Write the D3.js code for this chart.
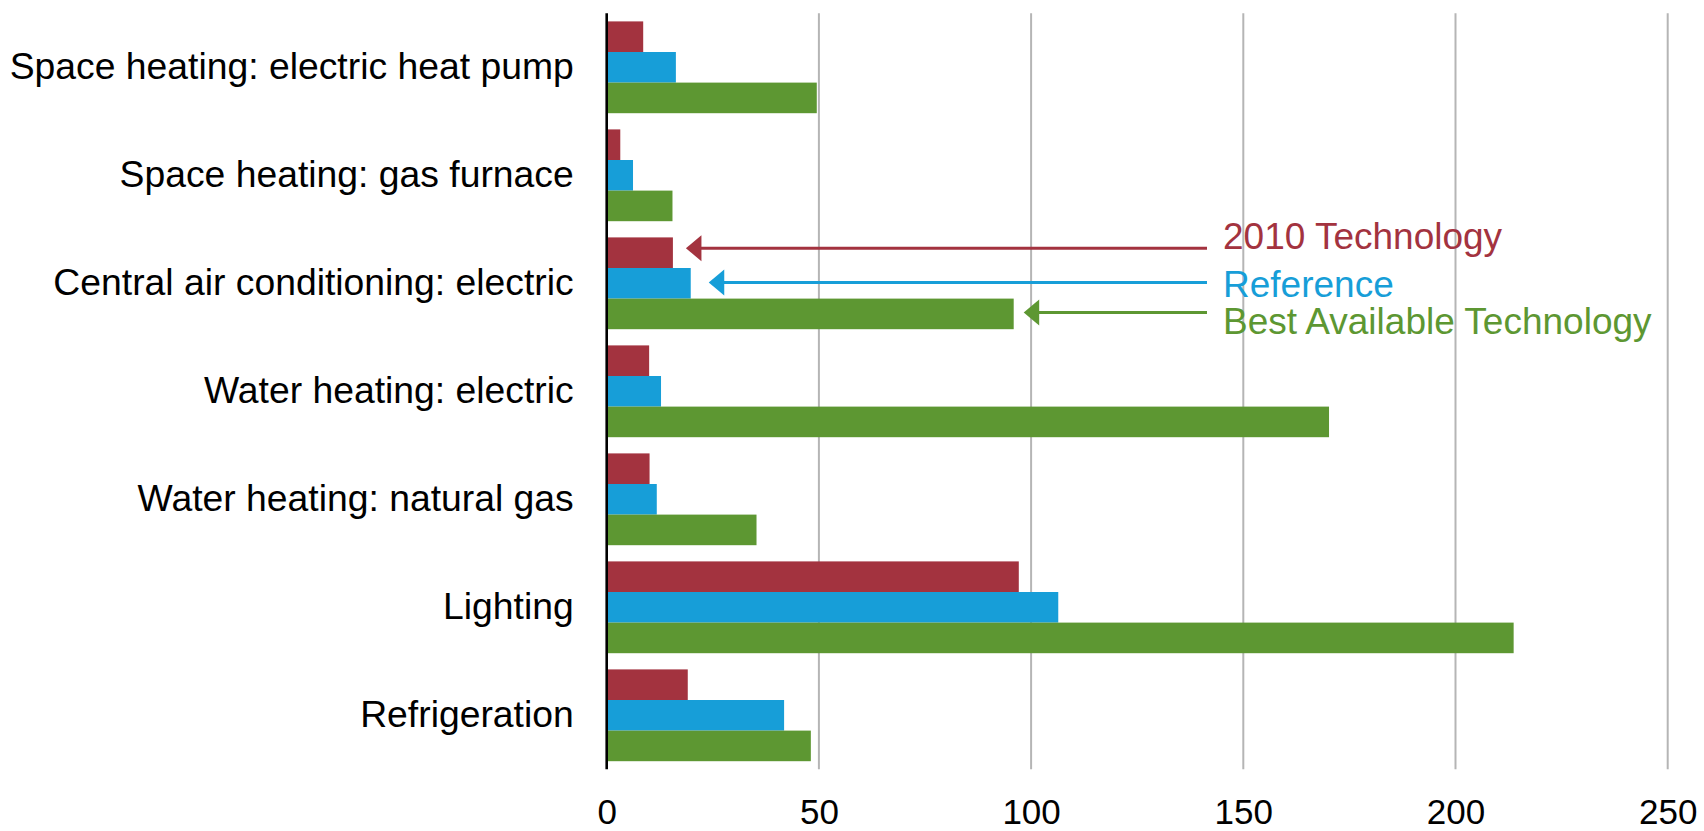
<!DOCTYPE html>
<html>
<head>
<meta charset="utf-8">
<script src="https://cdn.jsdelivr.net/npm/d3@7"></script>
<style>
  html, body { margin: 0; padding: 0; background: #ffffff; }
  svg { display: block; font-family: Arial, "Liberation Sans", sans-serif; }
</style>
</head>
<body>
<svg id="chart" width="1704" height="831"></svg>
<script>
// End-use categories, top to bottom
const categories = [
  "Space heating: electric heat pump",
  "Space heating: gas furnace",
  "Central air conditioning: electric",
  "Water heating: electric",
  "Water heating: natural gas",
  "Lighting",
  "Refrigeration"
];

// Series values per category
const tech2010 = [8.6, 3.2, 15.6, 10.0, 10.1, 97.1, 19.1];
const reference = [16.3, 6.2, 19.8, 12.8, 11.8, 106.4, 41.8];
const bestAvailable = [49.5, 15.5, 95.9, 170.2, 35.3, 213.7, 48.1];

const seriesNames = ["2010 Technology", "Reference", "Best Available Technology"];
const seriesColors = ["#A3333F", "#179ED8", "#5D9732"];
const xTicks = [0, 50, 100, 150, 200, 250];

// Category whose bars the series labels point at
const calloutCategory = "Central air conditioning: electric";

const series = [tech2010, reference, bestAvailable];

const svg = d3.select("#chart");
const plotLeft = 606.7, plotRight = 1667.7, plotTop = 13.3, plotBottom = 769.3;

const x = d3.scaleLinear().domain([0, 250]).range([plotLeft, plotRight]);
const y = d3.scaleBand().domain(categories).range([plotTop, plotBottom])
  .paddingInner(0.15).paddingOuter(0.075);
const ySub = d3.scaleBand().domain(d3.range(series.length)).range([0, y.bandwidth()]);

// Vertical gridlines
svg.append("g").selectAll("line")
  .data(xTicks.filter(d => d > 0))
  .join("line")
  .attr("x1", d => x(d)).attr("x2", d => x(d))
  .attr("y1", plotTop).attr("y2", plotBottom)
  .attr("stroke", "#B5B5B5").attr("stroke-width", 2);

// Bars
const groups = svg.append("g").selectAll("g")
  .data(categories)
  .join("g")
  .attr("transform", d => `translate(0,${y(d)})`);

groups.selectAll("rect")
  .data((c, i) => series.map((s, k) => ({ k, v: s[i] })))
  .join("rect")
  .attr("x", x(0))
  .attr("y", d => ySub(d.k))
  .attr("width", d => x(d.v) - x(0))
  .attr("height", ySub.bandwidth())
  .attr("fill", d => seriesColors[d.k]);

// Value axis line
svg.append("line")
  .attr("x1", x(0)).attr("x2", x(0))
  .attr("y1", plotTop).attr("y2", plotBottom)
  .attr("stroke", "#000").attr("stroke-width", 2.6);

// Bottom tick labels
const xAxis = svg.append("g")
  .attr("transform", `translate(0,${plotBottom})`)
  .call(d3.axisBottom(x).tickValues(xTicks).tickSize(0).tickPadding(30).tickFormat(d3.format("d")));
xAxis.select(".domain").remove();
xAxis.selectAll("text")
  .attr("font-size", 35).attr("fill", "#000")
  .attr("font-family", "Arial, 'Liberation Sans', sans-serif");

// Category labels
const yAxis = svg.append("g")
  .attr("transform", `translate(${x(0)},0)`)
  .call(d3.axisLeft(y).tickSize(0).tickPadding(33));
yAxis.select(".domain").remove();
yAxis.selectAll("text")
  .attr("font-size", 37.3).attr("fill", "#000").attr("dy", "0.32em")
  .attr("font-family", "Arial, 'Liberation Sans', sans-serif");

// Series labels with arrows pointing at the callout bars
const ci = categories.indexOf(calloutCategory);
const tipGap = [13, 18, 10];
const arrowDy = [-4.5, -0.8, -1.4];
const lineEnd = 1207;
const labelX = 1223;
const labelBaseline = [249.3, 296.7, 334];
const headLen = 15.5, headHalf = 13;

const callouts = svg.append("g");
series.forEach((s, k) => {
  const tipX = x(s[ci]) + tipGap[k];
  const ay = y(calloutCategory) + ySub(k) + ySub.bandwidth() / 2 + arrowDy[k];
  callouts.append("line")
    .attr("x1", tipX + headLen - 1).attr("x2", lineEnd)
    .attr("y1", ay).attr("y2", ay)
    .attr("stroke", seriesColors[k]).attr("stroke-width", 3);
  callouts.append("path")
    .attr("d", `M${tipX},${ay}L${tipX + headLen},${ay - headHalf}L${tipX + headLen},${ay + headHalf}Z`)
    .attr("fill", seriesColors[k]);
  callouts.append("text")
    .attr("x", labelX).attr("y", labelBaseline[k])
    .attr("font-size", 37)
    .attr("fill", seriesColors[k])
    .text(seriesNames[k]);
});
</script>
</body>
</html>
